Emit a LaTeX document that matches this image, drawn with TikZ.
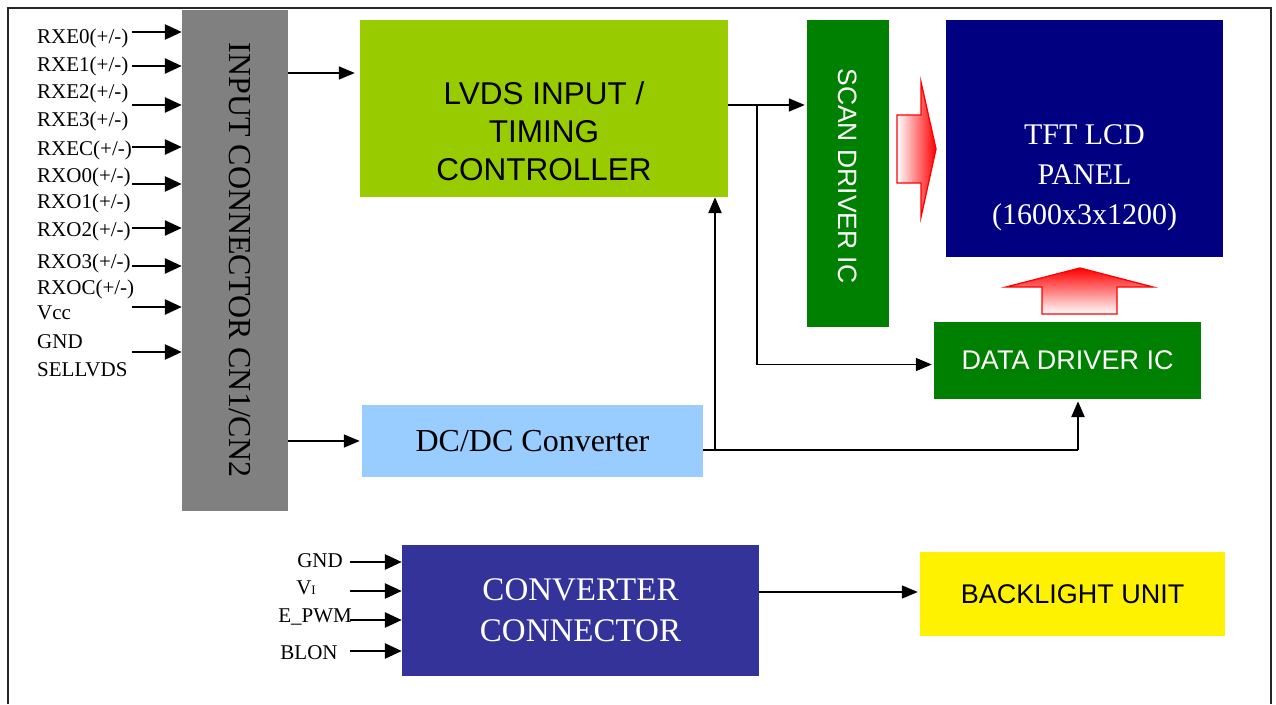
\documentclass[tikz,border=0pt]{standalone}
\usepackage{fontspec}
\setmainfont{Liberation Serif}
\setsansfont{Liberation Sans}
\usepackage{xcolor}
\usetikzlibrary{arrows.meta,positioning,calc}
\definecolor{lvdsgreen}{RGB}{153,204,0}
\definecolor{drvgreen}{RGB}{0,128,0}
\definecolor{panelblue}{RGB}{0,0,128}
\definecolor{dcblue}{RGB}{153,204,255}
\definecolor{convblue}{RGB}{51,51,153}
\definecolor{conngray}{RGB}{128,128,128}
\newcommand{\fs}[2]{\fontsize{#1}{#2}\selectfont}

\begin{document}
\begin{tikzpicture}[x=1pt, y=-1pt,
  box/.style={inner sep=0pt, align=center},
  lbl/.style={inner sep=0pt, font=\fs{21}{23}},
  arr/.style={-{Triangle[length=16pt,width=13pt]}, line width=1.6pt},
  sig/.style={-{Triangle[length=17pt,width=15pt]}, line width=2.6pt},
  fat/.style={draw=red, line width=1.3pt},
]
\useasboundingbox (0,0) rectangle (1276,704);
% frame
\draw[line width=1.5pt, black!85] (8,704) -- (8,8) -- (1271,8) -- (1271,704);

% blocks
\node[box, fill=conngray, minimum width=106, minimum height=501] (incon) at (235,260.5) {};
\node[box, rotate=-90, font=\fs{32}{32}] (incontxt) at (240,260) {INPUT CONNECTOR CN1/CN2};
\node[box, fill=lvdsgreen, minimum width=368, minimum height=177] (lvds) at (544,108.5) {};
\node[box, font=\sffamily\fs{31.5}{38}] (lvdstxt) at ([yshift=-23pt]lvds.center) {LVDS INPUT /\\TIMING\\CONTROLLER};
\node[box, fill=drvgreen, minimum width=82, minimum height=307] (scan) at (848,173.5) {};
\node[box, rotate=-90, text=white, font=\sffamily\fs{26.5}{26.5}] (scantxt) at (848,176) {SCAN DRIVER IC};
\node[box, fill=panelblue, minimum width=277, minimum height=237] (panel) at (1084.5,138.5) {};
\node[box, text=white, font=\fs{30}{40}] (paneltxt) at ([yshift=-39pt]panel.center) {TFT LCD\\PANEL\\(1600x3x1200)};
\node[box, fill=drvgreen, text=white, font=\sffamily\fs{27}{27}, minimum width=267, minimum height=77] (data) at (1067.5,360.5) {DATA DRIVER IC};
\node[box, fill=dcblue, font=\fs{32}{32}, minimum width=341, minimum height=72] (dcdc) at (532.5,441) {DC/DC Converter};
\node[box, fill=convblue, text=white, font=\fs{33}{41}, minimum width=357, minimum height=131] (conv) at (580.5,610.5) {CONVERTER\\CONNECTOR};
\node[box, fill=yellow, font=\sffamily\fs{27}{27}, minimum width=305, minimum height=84] (blu) at (1072.5,594) {BACKLIGHT UNIT};

% input signals
\foreach \name/\y in {{RXE0(+/-)}/38, {RXE1(+/-)}/66, {RXE2(+/-)}/93, {RXE3(+/-)}/121, {RXEC(+/-)}/150,
  {RXO0(+/-)}/177, {RXO1(+/-)}/203, {RXO2(+/-)}/231, {RXO3(+/-)}/263, {RXOC(+/-)}/289,
  Vcc/313, GND/342, SELLVDS/370} {
  \node[lbl, anchor=west] (l\y) at (37,\y) {\name};
}
\foreach \y [count=\i] in {32,66,105,147,184,228,266,307,352} {
  \coordinate (s\i) at (132,\y);
  \draw[sig] (s\i) -- (incon.west |- s\i);
}

% backlight signals
\node[lbl] (gnd) at (320,561) {GND};
\node[lbl] (vi) at (306,588) {V{\fs{13}{13}I}};
\node[lbl] (epwm) at (315,617) {E\_PWM};
\node[lbl] (blon) at (309,653) {BLON};
\foreach \y [count=\i] in {562,591,620,651} {
  \coordinate (b\i) at (350,\y);
  \draw[sig] (b\i) -- (conv.west |- b\i);
}

% connections
\coordinate (split) at (757,105);
\coordinate (dcjoin) at (715,450);
\coordinate (dctap) at (1078,450);
\draw[arr] (incon.east |- 0,73) -- ([xshift=-5pt]lvds.west |- 0,73);
\draw[arr] (incon.east |- 0,441) -- ([xshift=-2pt]dcdc.west |- 0,441);
\draw[arr] (lvds.east |- split) -- ([xshift=-2pt]scan.west |- split);
\draw[arr] (split) |- ([xshift=-2pt,yshift=-4pt]data.west);
\draw[line width=1.6pt] (dcdc.east |- dcjoin) -- (dctap);
\draw[arr, line width=2.6pt] (dctap) -- ([yshift=-2pt]data.south -| dctap);
\draw[arr, line width=2.6pt] (dcjoin) -- (lvds.south -| dcjoin);
\draw[arr] (conv.east |- 0,592) -- ([xshift=-2pt]blu.west |- 0,592);

% hollow red arrows
\shadedraw[fat, left color=white, right color=red] (897,115) -- (921,115) -- (921,82) -- (936,149)
  -- (921,217) -- (921,183) -- (897,183) -- cycle;
\shadedraw[fat, top color=red, bottom color=white] (1042,314) -- (1042,287) -- (1006,287) -- (1080,268)
  -- (1153,287) -- (1117,287) -- (1117,314) -- cycle;
\end{tikzpicture}
\end{document}
